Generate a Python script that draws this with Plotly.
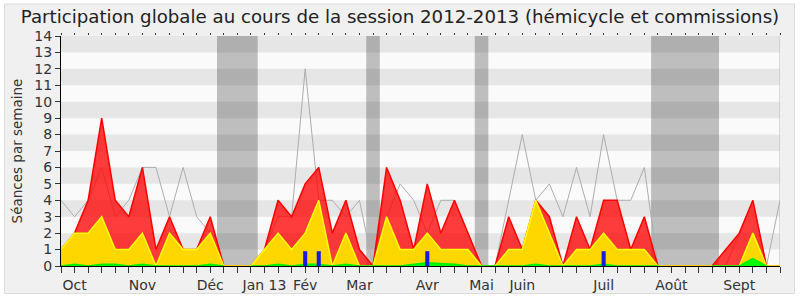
import plotly.graph_objects as go

# ---- data ----
weeks = list(range(54))
label_pos = [1, 6, 11, 15, 18, 22, 27, 31, 34, 40, 45, 50]
label_text = ["Oct", "Nov", "Déc", "Jan 13", "Fév", "Mar", "Avr", "Mai", "Juin", "Juil", "Août", "Sept"]

total_red = [1, 2, 4, 9, 4, 3, 6, 1, 3, 1, 1, 3, 0, 0, 0, 1, 4, 3, 5, 6, 2, 4, 1, 0, 6, 4, 1, 5, 2, 4,
             2, 0, 0, 3, 1, 4, 3, 0, 3, 1, 4, 4, 1, 3, 0, 0, 0, 0, 0, 1, 2, 4, 0, 0]
hemi_yellow = [1, 2, 2, 3, 1, 1, 2, 0, 2, 1, 1, 2, 0, 0, 0, 1, 2, 1, 2, 4, 0, 2, 0, 0, 3, 1, 1, 2, 1, 1,
               1, 0, 0, 1, 1, 4, 2, 0, 1, 1, 2, 1, 1, 1, 0, 0, 0, 0, 0, 0, 0, 2, 0, 0]
green_vals = [0, 0.1, 0, 0.1, 0.1, 0, 0.1, 0, 0, 0, 0, 0.1, 0, None, 0, 0, 0.1, 0, 0.1, 0.1, 0, 0.1, 0, 0, 0, 0, 0.1, 0.2, 0.15, 0.1,
              0, 0, 0, 0, 0, 0.1, 0, 0, 0, 0, 0.1, 0, 0, 0, 0, None, None, None, 0, 0, 0, 0.45, 0, None]
median_grey = [4, 3, 4, 6, 3, 4, 6, 6, 3, 6, 3, 2, 0, 0, 0, 1, 3, 3, 12, 4, 4, 3, 4, 0, 3, 5, 4, 2, 4, 4,
               2, 0, 0, 4, 8, 4, 5, 3, 6, 3, 8, 4, 4, 6, 0, 0, 0, 0, 0, 0, 2, 4, 0, 4]
bar_weeks = [18, 19, 27, 40]
bar_vals = [0.9, 0.9, 0.9, 0.9]
vacances = [(11.5, 14.5), (22.5, 23.5), (30.5, 31.5), (43.5, 48.5)]

FONT = "DejaVu Sans"
L, R, T, B = 61, 20, 36, 34
W, H = 800, 300
pw, ph = W - L - R, H - T - B


def px_x(p):
    return (p - L) / pw


def px_y(p):
    return (H - B - p) / ph


fig = go.Figure()
fig.add_trace(go.Scatter(x=weeks, y=median_grey, mode="lines",
                         line=dict(color="#adadad", width=1), hoverinfo="skip", showlegend=False))
fig.add_trace(go.Scatter(x=weeks, y=total_red, mode="lines", fill="tozeroy",
                         fillcolor="rgba(255,0,0,0.76)", line=dict(color="#ff0000", width=1.5),
                         hoverinfo="skip", showlegend=False))
fig.add_trace(go.Scatter(x=weeks, y=hemi_yellow, mode="lines", fill="tozeroy",
                         fillcolor="#ffd700", line=dict(color="#ffff00", width=1.5),
                         hoverinfo="skip", showlegend=False))
fig.add_trace(go.Scatter(x=weeks, y=green_vals, mode="lines", fill="tozeroy", connectgaps=False,
                         fillcolor="#00ff00", line=dict(color="#00ee00", width=1.5),
                         hoverinfo="skip", showlegend=False))
fig.add_trace(go.Bar(x=bar_weeks, y=bar_vals, width=0.3, marker=dict(color="#1a1ae0", line=dict(width=0)),
                     xaxis="x2", yaxis="y2", hoverinfo="skip", showlegend=False))

shapes = []
# panel
shapes.append(dict(type="rect", xref="paper", yref="paper", x0=px_x(4.5), x1=px_x(794.5),
                   y0=px_y(293.5), y1=px_y(4), fillcolor="#f0f0f0", line=dict(color="#dcdcdc", width=1),
                   layer="below"))
# plot background
shapes.append(dict(type="rect", xref="x", yref="y", x0=0, x1=53, y0=0, y1=14,
                   fillcolor="#fafafa", line=dict(width=0), layer="below"))
# vacances bands
for a, b in vacances:
    shapes.append(dict(type="rect", xref="x", yref="y", x0=a, x1=b, y0=0, y1=14,
                       fillcolor="#bebebe", line=dict(width=0), layer="below"))
# stripes
for k in range(7):
    shapes.append(dict(type="rect", xref="x", yref="y", x0=0, x1=53, y0=2 * k + 1, y1=2 * k + 2,
                       fillcolor="rgba(0,0,0,0.08)", line=dict(width=0), layer="below"))
# right border
shapes.append(dict(type="line", xref="x", yref="y", x0=53, x1=53, y0=0, y1=14,
                   line=dict(color="#bbbbbb", width=1), layer="below"))

ticktext = [label_text[label_pos.index(w)] if w in label_pos else "" for w in weeks]

fig.update_layout(
    width=W, height=H,
    margin=dict(l=L, r=R, t=T, b=B, autoexpand=False),
    paper_bgcolor="white",
    plot_bgcolor="#fafafa",
    font=dict(family=FONT, color="#333333", size=14),
    title=dict(text="Participation globale au cours de la session 2012-2013 (hémicycle et commissions)",
               x=0.5, xref="container", y=1 - 17 / H, yref="container", xanchor="center", yanchor="middle",
               font=dict(family=FONT, size=18.2, color="#222222")),
    shapes=shapes,
    barmode="overlay",
    xaxis=dict(range=[0, 53], tickmode="array", tickvals=weeks, ticktext=ticktext,
               ticks="outside", ticklen=6, tickcolor="#333333", tickwidth=1, automargin=False,
               showline=True, linecolor="#000000", linewidth=1, showgrid=False, zeroline=False,
               tickfont=dict(size=14, color="#333333"), fixedrange=True),
    xaxis2=dict(range=[0, 53], overlaying="x", side="top", tickmode="array", tickvals=weeks,
                ticks="outside", ticklen=2, tickcolor="#333333", showticklabels=False, automargin=False,
                showline=False, showgrid=False, zeroline=False),
    yaxis=dict(range=[0, 14], tickmode="array", tickvals=list(range(15)), automargin=False,
               ticks="outside", ticklen=5, tickcolor="#333333",
               showline=True, linecolor="#000000", linewidth=1, showgrid=False, zeroline=False,
               tickfont=dict(size=14, color="#333333"),
               title=dict(text="Séances par semaine", font=dict(size=13.5, color="#333333"), standoff=8)),
    yaxis2=dict(range=[0, 14], overlaying="y", visible=False, automargin=False),
)

fig.write_html("out.html")
